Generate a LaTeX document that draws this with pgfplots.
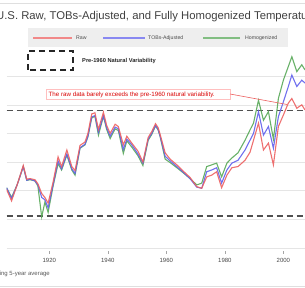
\documentclass[border=0pt]{standalone}
\usepackage{fontspec}
\setmainfont{Liberation Sans}
\usepackage{pgfplots}
\pgfplotsset{compat=1.18}
\definecolor{cRaw}{RGB}{236,96,96}
\definecolor{cTob}{RGB}{96,96,236}
\definecolor{cHom}{RGB}{88,168,88}
\definecolor{cDash}{RGB}{80,80,80}
\begin{document}
\begin{tikzpicture}[x=1pt,y=1pt]
\path[use as bounding box] (0,0) rectangle (305,288);
\draw[gray!25, line width=0.8pt] (0,285) -- (305,285);
\draw[gray!25, line width=0.8pt] (0,1.2) -- (305,1.2);
\begin{axis}[at={(6.5pt,37pt)}, anchor=south west, scale only axis,
  width=298.5pt, height=246pt,
  xmin=1905.37, xmax=2007.4, ymin=-1.556, ymax=2.745,
  axis line style={draw=none},
  ytick={-1.5,-1,-0.5,0,0.5,1,1.5}, yticklabels={}, ymajorgrids,
  grid style={gray!20, line width=0.5pt}, ytick style={draw=none},
  xtick={1920,1940,1960,1980,2000}, xtick pos=bottom, tick align=outside,
  major tick length=3pt, xtick style={gray!70, line width=0.5pt},
  xticklabel style={font=\fontsize{6}{7}\selectfont, text=gray!55!black, yshift=-0.5pt},
  /pgf/number format/assume math mode=true,
  /pgf/number format/set thousands separator={},
]
\draw[gray!55, line width=0.7pt] (rel axis cs:0,0) -- (rel axis cs:1,0);
\addplot[draw=cDash, line width=1.8pt, dash pattern=on 6.5pt off 3.5pt, forget plot] coordinates {(1905.37,0.90) (2007.4,0.90)};
\addplot[draw=cDash, line width=1.8pt, dash pattern=on 6.5pt off 3.5pt, forget plot] coordinates {(1905.37,-0.94) (2007.4,-0.94)};
% Homogenized
\addplot[draw=cHom, line width=1.1pt, opacity=0.9] coordinates {
(1905.4,-0.45) (1907.1,-0.62) (1909,-0.40) (1911.1,-0.08) (1912.3,-0.32) (1913.4,-0.31) (1915.1,-0.33) (1916.1,-0.42)
(1917.4,-0.96) (1918.5,-0.70) (1919.6,-0.88) (1921.3,-0.42) (1923.0,-0.03) (1924.2,-0.14) (1926.0,0.12) (1927.7,-0.14)
(1928.8,-0.23) (1930.5,0.24) (1932.2,0.30) (1933.2,0.44) (1934.5,0.77) (1935.6,0.80) (1936.8,0.47) (1938.5,0.80)
(1939.6,0.57) (1940.8,0.41) (1942.5,0.58) (1943.6,0.55) (1945.3,0.15) (1946.5,0.37) (1948.2,0.26) (1950.3,0.11)
(1952.0,-0.06) (1953.8,0.38) (1955.0,0.48) (1956.3,0.63) (1957.2,0.56) (1957.9,0.44) (1959.6,0.05) (1961.3,-0.01)
(1963.6,-0.10) (1965.8,-0.19) (1968.1,-0.29) (1970.4,-0.40) (1972.1,-0.37) (1973.8,-0.08) (1975.5,-0.05) (1977.2,-0.02)
(1978.9,-0.26) (1980.7,-0.02) (1982.4,0.07) (1984.5,0.16) (1986.9,0.38) (1988.6,0.56) (1989.8,0.68) (1991.5,1.08)
(1993.2,0.73) (1994.9,0.88) (1996.6,0.40) (1998.3,1.11) (2000.0,1.43) (2001.7,1.67) (2002.9,1.84) (2004.6,1.58)
(2006.3,1.70) (2007.4,1.61)};
% TOBs-Adjusted
\addplot[draw=cTob, line width=1.1pt, opacity=0.9] coordinates {
(1905.4,-0.45) (1907.1,-0.64) (1909,-0.40) (1911.1,-0.08) (1912.3,-0.32) (1913.4,-0.30) (1915.1,-0.33) (1916.1,-0.40)
(1917.4,-0.62) (1918.5,-0.66) (1919.6,-0.80) (1921.3,-0.40) (1923.0,0.02) (1924.2,-0.12) (1926.0,0.14) (1927.7,-0.12)
(1928.8,-0.20) (1930.5,0.25) (1932.2,0.31) (1933.2,0.45) (1934.5,0.79) (1935.6,0.81) (1936.8,0.52) (1938.5,0.81)
(1939.6,0.60) (1940.8,0.45) (1942.5,0.61) (1943.6,0.58) (1945.3,0.22) (1946.5,0.40) (1948.2,0.30) (1950.3,0.14)
(1952.0,-0.02) (1953.8,0.40) (1955.0,0.50) (1956.3,0.64) (1957.2,0.57) (1957.9,0.45) (1959.6,0.10) (1961.3,0.02)
(1963.6,-0.08) (1965.8,-0.18) (1968.1,-0.29) (1970.4,-0.44) (1972.1,-0.46) (1973.8,-0.17) (1975.5,-0.14) (1977.2,-0.10)
(1978.9,-0.37) (1980.7,-0.14) (1982.4,-0.02) (1984.5,0.03) (1986.9,0.21) (1988.6,0.38) (1989.8,0.50) (1991.5,0.88)
(1993.2,0.47) (1994.9,0.62) (1996.6,0.24) (1998.3,0.79) (2000.0,1.05) (2001.7,1.32) (2002.9,1.52) (2004.6,1.32)
(2006.3,1.43) (2007.4,1.38)};
% Raw
\addplot[draw=cRaw, line width=1.1pt, opacity=0.9] coordinates {
(1905.4,-0.48) (1907.1,-0.68) (1909,-0.40) (1911.1,-0.06) (1912.3,-0.30) (1913.4,-0.29) (1915.1,-0.31) (1916.1,-0.38)
(1917.4,-0.55) (1918.5,-0.62) (1919.6,-0.72) (1921.3,-0.35) (1923.0,0.09) (1924.2,-0.08) (1926.0,0.21) (1927.7,-0.08)
(1928.8,-0.15) (1930.5,0.29) (1932.2,0.35) (1933.2,0.50) (1934.5,0.84) (1935.6,0.86) (1936.8,0.57) (1938.5,0.87)
(1939.6,0.64) (1940.8,0.50) (1942.5,0.66) (1943.6,0.62) (1945.3,0.30) (1946.5,0.45) (1948.2,0.33) (1950.3,0.19)
(1952.0,0.00) (1953.8,0.43) (1955.0,0.53) (1956.3,0.67) (1957.2,0.60) (1957.9,0.48) (1959.6,0.16) (1961.3,0.05)
(1963.6,-0.05) (1965.8,-0.16) (1968.1,-0.27) (1970.4,-0.43) (1972.1,-0.46) (1973.8,-0.26) (1975.5,-0.23) (1977.2,-0.17)
(1978.9,-0.45) (1980.7,-0.23) (1982.4,-0.10) (1984.5,-0.08) (1986.9,0.03) (1988.6,0.17) (1989.8,0.38) (1991.5,0.68)
(1993.2,0.21) (1994.9,0.33) (1996.6,-0.05) (1998.3,0.62) (2000.0,0.82) (2001.7,1.03) (2002.9,1.11) (2004.6,0.94)
(2006.3,1.00) (2007.4,0.91)};
\end{axis}
% title
\node[anchor=base west, inner sep=0pt, text=black!75, font=\fontsize{11.3}{13}\selectfont] at (-4,268) {U.S. Raw, TOBs-Adjusted, and Fully Homogenized Temperatures};
% legend box
\fill[gray!13] (28,241) rectangle (288,260);
\draw[draw=cRaw!75, line width=1.5pt] (33,250) -- (72,250);
\node[anchor=west, inner sep=0pt, text=black!70, font=\fontsize{5.2}{6}\selectfont] at (76,250) {Raw};
\draw[draw=cTob!75, line width=1.5pt] (103,250) -- (145,250);
\node[anchor=west, inner sep=0pt, text=black!70, font=\fontsize{5.2}{6}\selectfont] at (148,250) {TOBs-Adjusted};
\draw[draw=cHom!75, line width=1.5pt] (203,250) -- (240,250);
\node[anchor=west, inner sep=0pt, text=black!70, font=\fontsize{5.2}{6}\selectfont] at (245,250) {Homogenized};
% dashed box legend
\draw[black!85, line width=1.4pt, dash pattern=on 6pt off 4pt] (28,218) rectangle (73,237);
\node[anchor=west, inner sep=0pt, text=black!85, font=\bfseries\fontsize{5.7}{7}\selectfont] at (82,227) {Pre-1960 Natural Variability};
% annotation
\draw[red!25, fill=white, line width=0.5pt] (46.5,188.5) rectangle (230,198.5);
\node[anchor=west, inner sep=0pt, text=red!85!black, font=\fontsize{6.2}{7}\selectfont] at (48.5,193.5) {The raw data barely exceeds the pre-1960 natural variability.};
\draw[cRaw, line width=0.6pt] (230,194) -- (287,183.5);
% note
\node[anchor=base east, inner sep=0pt, text=black!65, font=\fontsize{6}{7}\selectfont] at (50,12) {Smoothing 5-year average};
\end{tikzpicture}
\end{document}
